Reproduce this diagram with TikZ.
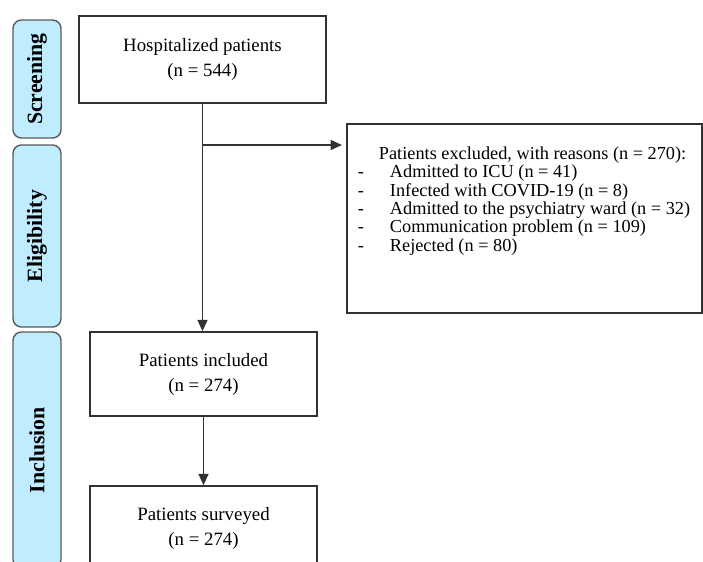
\documentclass[tikz,border=0pt]{standalone}
\usepackage{fontspec}
\setmainfont{Liberation Serif}
\usepackage{tikz}
\usetikzlibrary{arrows.meta,positioning,calc}
\definecolor{tabblue}{RGB}{192,236,255}
\definecolor{lineg}{RGB}{50,50,50}
\tikzset{
  flowbox/.style={draw=lineg,line width=1.1pt,align=center,inner sep=0pt,
                  font=\fontsize{13.4}{17.8}\selectfont},
  stagetab/.style={draw=lineg!80,fill=tabblue,rounded corners=6pt,line width=1pt,
                   rotate=90,minimum height=1.2cm,font=\fontsize{15.5}{17}\selectfont\bfseries},
  arr/.style={-{Triangle[length=8pt,width=7pt]},line width=1.2pt,draw=lineg},
}
\newcommand{\exclitem}[1]{\par\hspace*{0.275cm}\makebox[0.8cm][l]{-}#1}

\begin{document}
\begin{tikzpicture}[x=0.025cm,y=-0.025cm]
\useasboundingbox (0,0) rectangle (703,561);
\clip (0,0) rectangle (703,561);
% stage tabs
\node[stagetab,minimum width=2.95cm] (screen) at (37,79) {Screening};
\node[stagetab,minimum width=4.55cm] (elig) at (37,236) {Eligibility};
\node[stagetab,minimum width=5.9cm] (incltab) at (37,450) {Inclusion};
% flow boxes
\node[flowbox,minimum width=6.175cm,minimum height=2.175cm] (hosp) at (202.5,59.5)
  {Hospitalized patients\\(n = 544)};
\node[flowbox,minimum width=5.675cm,minimum height=2.1cm] (incl) at (203.5,374)
  {Patients included\\(n = 274)};
\node[flowbox,minimum width=5.675cm,minimum height=2.1cm] (surv) at (203.5,528)
  {Patients surveyed\\(n = 274)};
\node[flowbox,minimum width=8.875cm,minimum height=4.725cm] (excl) at (524.5,218.5)
  {\parbox[c][4.725cm][t]{8.875cm}{\fontsize{13}{13.1}\selectfont
   \vspace*{16pt}\hspace*{0.8cm}Patients excluded, with reasons (n = 270):
   \exclitem{Admitted to ICU (n = 41)}
   \exclitem{Infected with COVID-19 (n = 8)}
   \exclitem{Admitted to the psychiatry ward (n = 32)}
   \exclitem{Communication problem (n = 109)}
   \exclitem{Rejected (n = 80)}}};
% connectors
\coordinate (branch) at (202.5,145);
\draw[arr] (hosp.south) -- (hosp.south |- incl.north);
\draw[arr,shorten >=3pt] (branch) -- (branch -| excl.west);
\draw[arr] (incl) -- (surv);
\end{tikzpicture}
\end{document}
